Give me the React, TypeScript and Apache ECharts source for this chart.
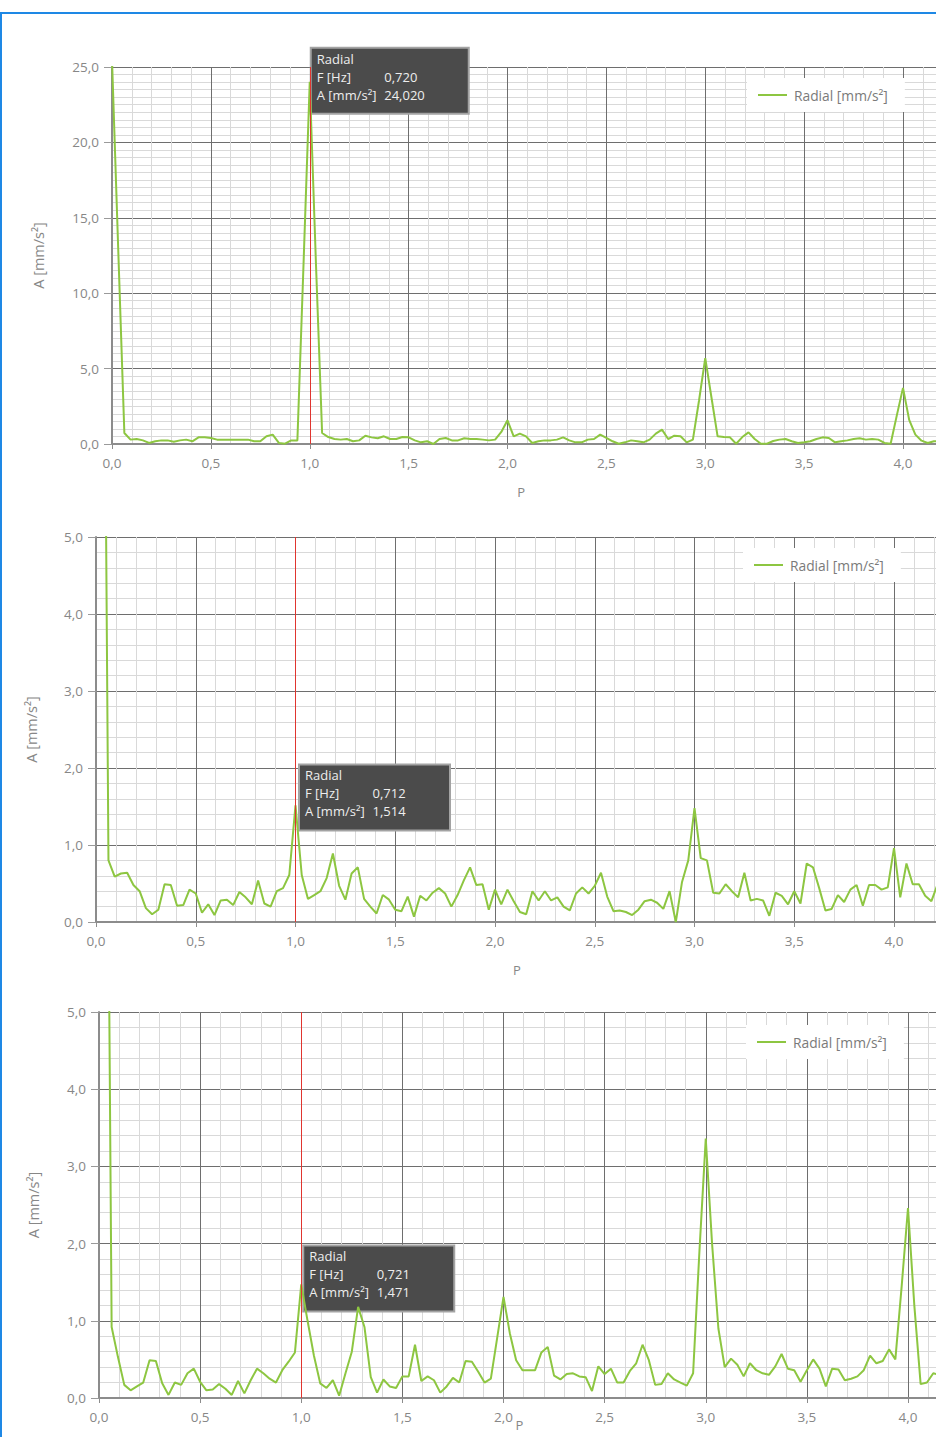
import React, { useEffect, useRef } from "react";
import * as echarts from "echarts";

// ---------- data ----------
const P_STEP = 1 / 32; // order resolution of the spectra
const MARKER_P = 1.0; // cursor position (order)
const SERIES_NAME = "Radial [mm/s²]";
const ROTATION_HZ = [0.72, 0.712, 0.721];

const Y_MAX = [25, 5, 5];
const Y_INTERVAL = [5, 1, 1];
const Y_MINOR_SPLIT = [10, 5, 5];

const radialTop: number[] = [
  25.5, 13.0, 0.73, 0.29, 0.33, 0.24, 0.07, 0.18, 0.24, 0.24,
  0.15, 0.24, 0.29, 0.18, 0.44, 0.44, 0.40, 0.29, 0.29, 0.29,
  0.29, 0.29, 0.29, 0.18, 0.18, 0.51, 0.62, 0.07, 0.02, 0.24,
  0.24, 12.0, 24.02, 12.0, 0.73, 0.46, 0.33, 0.29, 0.33, 0.18,
  0.24, 0.55, 0.44, 0.38, 0.51, 0.33, 0.33, 0.46, 0.44, 0.24,
  0.11, 0.18, 0.0, 0.33, 0.40, 0.24, 0.24, 0.38, 0.33, 0.33,
  0.29, 0.24, 0.29, 0.8, 1.57, 0.51, 0.69, 0.51, 0.07, 0.18,
  0.24, 0.24, 0.29, 0.44, 0.24, 0.11, 0.11, 0.29, 0.33, 0.62,
  0.40, 0.18, 0.02, 0.11, 0.24, 0.18, 0.11, 0.29, 0.69, 0.95,
  0.33, 0.55, 0.51, 0.11, 0.29, 2.9, 5.7, 3.1, 0.51, 0.46,
  0.44, 0.02, 0.46, 0.77, 0.33, 0.02, 0.02, 0.2, 0.29, 0.33,
  0.18, 0.07, 0.11, 0.18, 0.33, 0.44, 0.40, 0.11, 0.18, 0.24,
  0.33, 0.38, 0.29, 0.33, 0.29, 0.07, 0.02, 1.9, 3.72, 1.6,
  0.62, 0.22, 0.07, 0.18, 0.2,
];

const radialMid: number[] = [
  24, 12, 0.80, 0.59, 0.63, 0.64, 0.48, 0.40, 0.18, 0.10,
  0.16, 0.49, 0.48, 0.21, 0.22, 0.42, 0.37, 0.12, 0.23, 0.09,
  0.28, 0.29, 0.22, 0.39, 0.32, 0.23, 0.54, 0.24, 0.20, 0.40,
  0.44, 0.61, 1.514, 0.61, 0.30, 0.35, 0.40, 0.57, 0.89, 0.47,
  0.29, 0.63, 0.71, 0.30, 0.20, 0.11, 0.35, 0.29, 0.16, 0.14,
  0.33, 0.07, 0.34, 0.28, 0.38, 0.44, 0.37, 0.20, 0.35, 0.54,
  0.71, 0.48, 0.49, 0.16, 0.42, 0.23, 0.42, 0.27, 0.13, 0.10,
  0.40, 0.28, 0.40, 0.28, 0.32, 0.20, 0.15, 0.37, 0.45, 0.37,
  0.47, 0.64, 0.33, 0.14, 0.15, 0.13, 0.09, 0.16, 0.27, 0.29,
  0.25, 0.17, 0.40, 0.0, 0.52, 0.80, 1.48, 0.83, 0.80, 0.38,
  0.37, 0.49, 0.40, 0.32, 0.64, 0.28, 0.30, 0.28, 0.08, 0.38,
  0.34, 0.23, 0.40, 0.24, 0.76, 0.71, 0.44, 0.15, 0.17, 0.35,
  0.26, 0.42, 0.48, 0.21, 0.48, 0.48, 0.42, 0.45, 0.96, 0.32,
  0.76, 0.49, 0.49, 0.34, 0.27, 0.49,
];

const radialBottom: number[] = [
  24, 12, 0.92, 0.53, 0.17, 0.10, 0.15, 0.20, 0.49, 0.48,
  0.19, 0.04, 0.20, 0.17, 0.32, 0.38, 0.21, 0.10, 0.11, 0.18,
  0.12, 0.04, 0.22, 0.06, 0.23, 0.38, 0.32, 0.25, 0.20, 0.36,
  0.47, 0.59, 1.471, 1.0, 0.55, 0.19, 0.13, 0.23, 0.03, 0.32,
  0.60, 1.18, 0.92, 0.27, 0.07, 0.24, 0.15, 0.13, 0.28, 0.28,
  0.69, 0.22, 0.28, 0.23, 0.07, 0.15, 0.26, 0.20, 0.48, 0.47,
  0.34, 0.20, 0.25, 0.78, 1.31, 0.84, 0.49, 0.36, 0.36, 0.36,
  0.59, 0.66, 0.29, 0.24, 0.31, 0.32, 0.28, 0.27, 0.09, 0.41,
  0.31, 0.38, 0.20, 0.20, 0.35, 0.45, 0.69, 0.49, 0.17, 0.18,
  0.32, 0.24, 0.20, 0.16, 0.32, 1.9, 3.36, 2.0, 0.9, 0.40,
  0.51, 0.43, 0.28, 0.45, 0.36, 0.32, 0.30, 0.41, 0.57, 0.38,
  0.36, 0.21, 0.36, 0.50, 0.38, 0.15, 0.38, 0.37, 0.23, 0.25,
  0.28, 0.36, 0.55, 0.45, 0.48, 0.63, 0.50, 1.45, 2.46, 1.2,
  0.18, 0.2, 0.32, 0.3,
];

const SERIES = [radialTop, radialMid, radialBottom];

// ---------- layout ----------
const X_MAX = 4.25;
const LAYOUT = [
  { left: 112, top: 67, ppu: 197.75, height: 377, legendLeft: 747, legendTop: 78, yNameGap: 66, pGap: 42, pShift: 22, tip: [1, -34] },
  { left: 96, top: 537, ppu: 199.5, height: 385, legendLeft: 743, legendTop: 548, yNameGap: 57, pGap: 42, pShift: 6, tip: [3.5, -41] },
  { left: 99, top: 1012, ppu: 202.25, height: 386, legendLeft: 746, legendTop: 1025, yNameGap: 58, pGap: 21, pShift: 19, tip: [2, -39] },
];

const FONT = "Open Sans";
const LABEL_COLOR = "#878787";
const GREEN = "#8dc641";
const fmt1 = (v: number) => v.toFixed(1).replace(".", ",");
const fmt3 = (v: number) => v.toFixed(3).replace(".", ",");

function buildOption(): any {
  return {
    animation: false,
    backgroundColor: "#ffffff",
    grid: LAYOUT.map((L) => ({
      left: L.left,
      top: L.top,
      width: X_MAX * L.ppu,
      height: L.height,
      containLabel: false,
      outerBoundsMode: "none",
    })),
    xAxis: LAYOUT.map((L, k) => ({
      type: "value",
      gridIndex: k,
      min: 0,
      max: X_MAX,
      interval: 0.5,
      name: "P",
      nameLocation: "middle",
      nameGap: L.pGap,
      nameMoveOverlap: false,
      nameTextStyle: { color: LABEL_COLOR, fontSize: 13, lineHeight: 12, fontFamily: FONT, padding: [0, L.pShift, 0, 0] },
      axisLine: { show: true, onZero: false, lineStyle: { color: "#8c8c8c", width: 2 } },
      axisTick: { show: true, length: 5, lineStyle: { color: "#8c8c8c", width: 1 } },
      axisLabel: { color: LABEL_COLOR, fontSize: 13.5, fontFamily: FONT, margin: 12, showMaxLabel: false, formatter: fmt1 },
      splitLine: { show: true, lineStyle: { color: "#6e6e6e", width: 1 } },
      minorTick: { show: false, splitNumber: 5 },
      minorSplitLine: { show: true, lineStyle: { color: "#d9d9d9", width: 1 } },
    })),
    yAxis: LAYOUT.map((L, k) => ({
      type: "value",
      gridIndex: k,
      min: 0,
      max: Y_MAX[k],
      interval: Y_INTERVAL[k],
      name: "A [mm/s²]",
      nameLocation: "middle",
      nameGap: L.yNameGap,
      nameMoveOverlap: false,
      nameTextStyle: { color: LABEL_COLOR, fontSize: 14.5, fontFamily: FONT },
      axisLine: { show: true, lineStyle: { color: "#8c8c8c", width: 2 } },
      axisTick: { show: true, length: 8, lineStyle: { color: "#9a9a9a", width: 1 } },
      axisLabel: { color: LABEL_COLOR, fontSize: 13.5, fontFamily: FONT, margin: 13, formatter: fmt1 },
      splitLine: { show: true, lineStyle: { color: "#6e6e6e", width: 1 } },
      minorTick: { show: false, splitNumber: Y_MINOR_SPLIT[k] },
      minorSplitLine: { show: true, lineStyle: { color: "#d9d9d9", width: 1 } },
    })),
    legend: LAYOUT.map((L) => ({
      left: L.legendLeft,
      top: L.legendTop,
      data: [SERIES_NAME],
      icon: "rect",
      itemWidth: 29,
      itemHeight: 2,
      backgroundColor: "#ffffff",
      padding: [10, 17, 10, 11],
      textStyle: { color: "#7a7a7a", fontSize: 13.8, fontFamily: FONT, padding: [0, 0, 0, 2] },
      selectedMode: false,
    })),
    series: SERIES.map((vals, k) => ({
      type: "line",
      name: SERIES_NAME,
      xAxisIndex: k,
      yAxisIndex: k,
      data: vals.map((v, i) => [i * P_STEP, v]),
      showSymbol: false,
      symbol: "none",
      clip: true,
      lineStyle: { color: GREEN, width: 2 },
      itemStyle: { color: GREEN },
      markLine: {
        silent: true,
        symbol: ["none", "none"],
        label: { show: false },
        lineStyle: { color: "#e0352f", width: 1, type: "solid" },
        data: [{ xAxis: MARKER_P }],
      },
      z: 3,
    })),
  };
}

export default function App() {
  const ref = useRef<HTMLDivElement>(null);

  useEffect(() => {
    const el = ref.current;
    if (!el) return;
    const chart = echarts.init(el, null, { renderer: "svg" });
    chart.setOption(buildOption());

    const idx = Math.round(MARKER_P / P_STEP);
    const graphics = LAYOUT.map((L, k) => {
      const peak = SERIES[k][idx];
      const pt = chart.convertToPixel({ gridIndex: k } as any, [MARKER_P, peak]) as number[];
      const valStr = fmt3(peak);
      const w = 116 + 7 * valStr.length;
      const h = 66;
      const txt = (text: string, x: number, y: number) => ({
        type: "text",
        style: { text, x, y, fill: "#eeeeee", fontSize: 13, fontFamily: FONT, verticalAlign: "middle", align: "left" },
      });
      return {
        type: "group",
        x: pt[0] + L.tip[0],
        y: pt[1] + L.tip[1],
        z: 100,
        children: [
          { type: "rect", shape: { x: 0, y: 0, width: w, height: h }, style: { fill: "#4b4b4b", stroke: "#a3a3a3", lineWidth: 2 } },
          txt("Radial", 6, 11),
          txt("F [Hz]", 6, 29),
          txt(fmt3(ROTATION_HZ[k]), 73.5, 29),
          txt("A [mm/s²]", 6, 47),
          txt(valStr, 73.5, 47),
        ],
      };
    });
    chart.setOption({ graphic: graphics });

    return () => chart.dispose();
  }, []);

  return (
    <div style={{ position: "absolute", left: 0, top: 0, width: 936, height: 1437, overflow: "hidden", background: "#fff" }}>
      <div ref={ref} style={{ width: 1000, height: 1480 }} />
      <div
        style={{
          position: "absolute",
          left: 0,
          top: 12,
          width: 960,
          height: 1460,
          borderTop: "2px solid #1e88e5",
          borderLeft: "2px solid #1e88e5",
          pointerEvents: "none",
        }}
      />
    </div>
  );
}
